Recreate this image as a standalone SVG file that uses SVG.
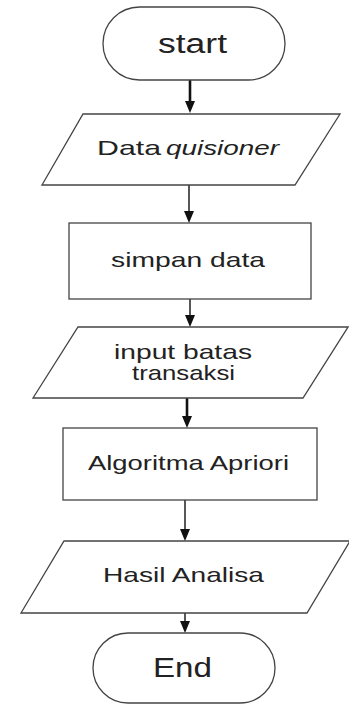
<svg xmlns="http://www.w3.org/2000/svg" width="349" height="705" viewBox="0 0 349 705">
  <defs>
    <marker id="arrow" markerUnits="userSpaceOnUse" markerWidth="12" markerHeight="13" refX="5" refY="12" orient="auto-start-reverse" viewBox="0 0 10 12">
      <path d="M0,0 L10,0 L5,12 Z" fill="#111"/>
    </marker>
    <style>
      .shape { fill: #ffffff; stroke: #444444; stroke-width: 1.3; }
      .label { font-family: "Liberation Sans", Arial, sans-serif; font-size: 21px; fill: #222222; }
      .big { font-size: 27px; }
      .it { font-style: italic; }
      .flow { stroke: #111111; stroke-width: 1.4; fill: none; }
      .flow.thick { stroke-width: 2.6; }
    </style>
  </defs>
  <rect width="349" height="705" fill="#ffffff"/>

  <g id="connectors">
    <line class="flow thick" x1="190" y1="80" x2="190" y2="101"/>
    <path d="M185,101 L195,101 L190,113 Z" fill="#111"/>
    <line class="flow" x1="189" y1="185" x2="189" y2="211"/>
    <path d="M184,211 L194,211 L189,223 Z" fill="#111"/>
    <line class="flow" x1="190" y1="299" x2="190" y2="315"/>
    <path d="M185,315 L195,315 L190,327 Z" fill="#111"/>
    <line class="flow thick" x1="187" y1="398" x2="187" y2="416"/>
    <path d="M182,416 L192,416 L187,428 Z" fill="#111"/>
    <line class="flow" x1="185" y1="500" x2="185" y2="529"/>
    <path d="M180,529 L190,529 L185,541 Z" fill="#111"/>
    <line class="flow" x1="185" y1="603" x2="185" y2="621"/>
    <path d="M180,621 L190,621 L185,633 Z" fill="#111"/>
  </g>

  <g id="start">
    <rect class="shape" x="103" y="7" width="182" height="73" rx="36.5" ry="36.5"/>
    <text class="label big" x="158" y="53" font-size="28" textLength="69" lengthAdjust="spacingAndGlyphs">start</text>
  </g>

  <g id="data-quisioner">
    <polygon class="shape" points="83,114 340,114 295,185 42,185"/>
    <text class="label" x="97" y="155" textLength="64" lengthAdjust="spacingAndGlyphs">Data</text>
    <text class="label it" x="166" y="155" textLength="113" lengthAdjust="spacingAndGlyphs">quisioner</text>
  </g>

  <g id="simpan-data">
    <rect class="shape" x="69" y="223" width="242" height="76"/>
    <text class="label" x="111" y="267" textLength="154" lengthAdjust="spacingAndGlyphs">simpan data</text>
  </g>

  <g id="input-batas">
    <polygon class="shape" points="78,327 348,327 303,398 33,398"/>
    <text class="label" x="114" y="359" textLength="138" lengthAdjust="spacingAndGlyphs">input batas</text>
    <text class="label" x="132" y="380" textLength="103" lengthAdjust="spacingAndGlyphs">transaksi</text>
  </g>

  <g id="algoritma-apriori">
    <rect class="shape" x="63" y="428" width="254" height="72"/>
    <text class="label" x="88" y="470" textLength="201" lengthAdjust="spacingAndGlyphs">Algoritma Apriori</text>
  </g>

  <g id="hasil-analisa">
    <polygon class="shape" points="64,541 350,541 307,613 21,613"/>
    <text class="label" x="103" y="582" textLength="161" lengthAdjust="spacingAndGlyphs">Hasil Analisa</text>
  </g>

  <g id="end">
    <rect class="shape" x="93" y="633" width="182" height="70" rx="35" ry="35"/>
    <text class="label big" x="153" y="677" textLength="59" lengthAdjust="spacingAndGlyphs">End</text>
  </g>
</svg>
